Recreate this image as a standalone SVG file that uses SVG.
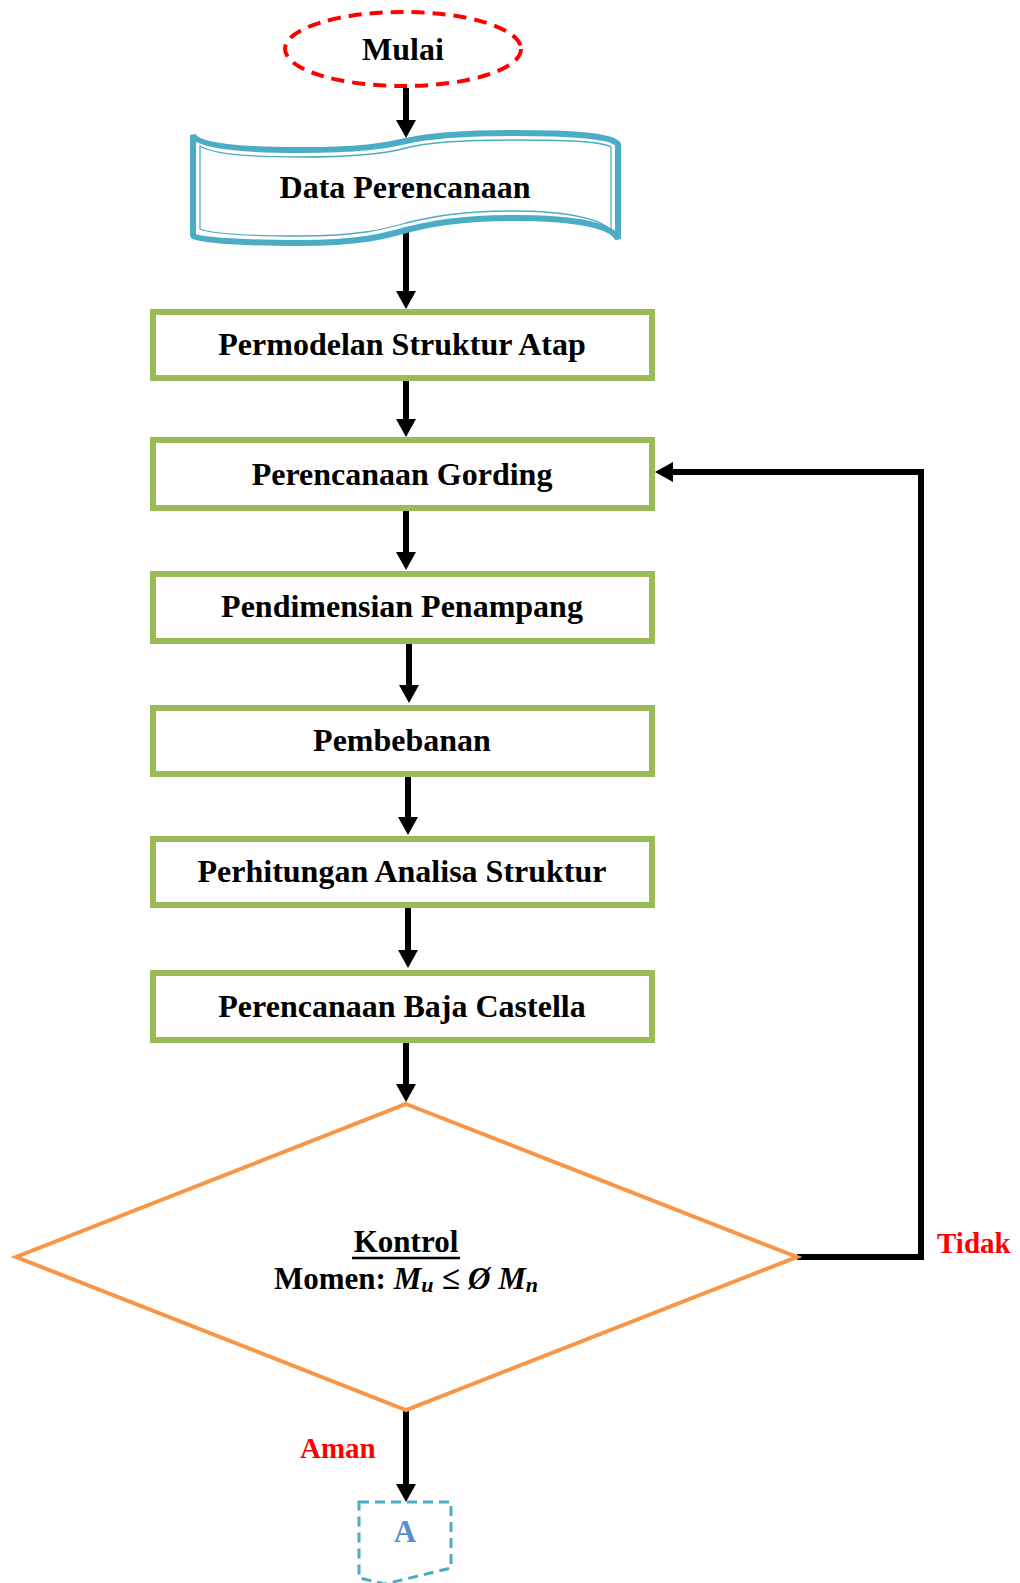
<svg xmlns="http://www.w3.org/2000/svg" width="1020" height="1583" viewBox="0 0 1020 1583">
<style>
text{font-family:"Liberation Serif","Times New Roman",serif;font-weight:bold;fill:#000}
.lbl{font-size:32px;text-anchor:middle}
.box{fill:#fff;stroke:#9BBB59;stroke-width:6}
.conn{fill:none;stroke:#000;stroke-width:6;stroke-linejoin:miter}
.red{fill:#FF0000;font-size:29px}
</style>
<defs>
<marker id="ah" markerUnits="userSpaceOnUse" viewBox="0 0 18 20" refX="3" refY="10" markerWidth="18" markerHeight="20" orient="auto">
<path d="M0,0 L18,10 L0,20 Z" fill="#000"/>
</marker>
</defs>
<rect width="1020" height="1583" fill="#fff"/>

<g id="connectors">
<path class="conn" marker-end="url(#ah)" d="M406,88 V123"/>
<path class="conn" marker-end="url(#ah)" d="M406,232 V294"/>
<path class="conn" marker-end="url(#ah)" d="M406,381 V422"/>
<path class="conn" marker-end="url(#ah)" d="M406,511 V555"/>
<path class="conn" marker-end="url(#ah)" d="M409,644 V688"/>
<path class="conn" marker-end="url(#ah)" d="M408,777 V820"/>
<path class="conn" marker-end="url(#ah)" d="M408,908 V953"/>
<path class="conn" marker-end="url(#ah)" d="M406,1043 V1087"/>
<path class="conn" marker-end="url(#ah)" d="M406,1410 V1487"/>
<path class="conn" marker-end="url(#ah)" d="M797,1257 H921 V472 H670"/>
</g>

<g id="mulai">
<ellipse cx="403" cy="49" rx="118" ry="37" fill="#fff" stroke="#FF0000" stroke-width="4" stroke-dasharray="13 8"/>
<text class="lbl" x="403" y="60">Mulai</text>
</g>

<g id="data-perencanaan">
<path d="M193,236 L193,135 C197,146 240,150 300,150 C360,150 385,146 406,141 C428,136 460,133 513,133 C570,133 610,135 618,144 L618,239 C612,225 575,218 513,218 C460,218 430,224 406,230 C385,236 360,243 300,243 C240,243 200,240 193,236 Z" fill="#fff" stroke="#4BACC6" stroke-width="6" stroke-linejoin="bevel"/>
<path d="M200,229 L200,146 C210,153 245,157 300,157 C360,157 388,153 406,148 C428,142 460,140 513,140 C565,140 600,141 611,147 L611,231 C604,220 570,211 513,211 C460,211 430,217 406,223 C385,229 360,236 300,236 C245,236 210,233 200,229 Z" fill="none" stroke="#4BACC6" stroke-width="1.3"/>
<text class="lbl" x="405" y="198">Data Perencanaan</text>
</g>

<g id="permodelan">
<rect class="box" x="153" y="312" width="499" height="66"/>
<text class="lbl" x="402" y="355">Permodelan Struktur Atap</text>
</g>

<g id="gording">
<rect class="box" x="153" y="440" width="499" height="68"/>
<text class="lbl" x="402" y="485">Perencanaan Gording</text>
</g>

<g id="pendimensian">
<rect class="box" x="153" y="574" width="499" height="67"/>
<text class="lbl" x="402" y="617">Pendimensian Penampang</text>
</g>

<g id="pembebanan">
<rect class="box" x="153" y="708" width="499" height="66"/>
<text class="lbl" x="402" y="751">Pembebanan</text>
</g>

<g id="perhitungan">
<rect class="box" x="153" y="839" width="499" height="66"/>
<text class="lbl" x="402" y="882">Perhitungan Analisa Struktur</text>
</g>

<g id="baja-castella">
<rect class="box" x="153" y="973" width="499" height="67"/>
<text class="lbl" x="402" y="1017">Perencanaan Baja Castella</text>
</g>

<g id="kontrol">
<polygon points="406,1104 797,1257 406,1410 16,1257" fill="#fff" stroke="#F79646" stroke-width="4"/>
<text x="406" y="1252" style="font-size:31px;text-anchor:middle">Kontrol</text>
<line x1="352" y1="1258" x2="460" y2="1258" stroke="#000" stroke-width="2.5"/>
<text x="406" y="1289" style="font-size:31px;text-anchor:middle">Momen: <tspan font-style="italic">M</tspan><tspan font-style="italic" font-size="22" dy="3">u</tspan><tspan dy="-3" font-size="33"> ≤ </tspan><tspan font-style="italic">Ø M</tspan><tspan font-style="italic" font-size="22" dy="3">n</tspan></text>
</g>

<g id="label-tidak">
<text class="red" x="937" y="1253">Tidak</text>
</g>
<g id="label-aman">
<text class="red" x="300" y="1458">Aman</text>
</g>

<g id="connector-a">
<path d="M359,1502 L451,1502 L451,1568 L385,1584 L359,1578 Z" fill="#fff" stroke="#4BACC6" stroke-width="3" stroke-dasharray="10 6"/>
<text x="405" y="1542" style="font-size:31px;text-anchor:middle;fill:#558ED5">A</text>
</g>
</svg>
